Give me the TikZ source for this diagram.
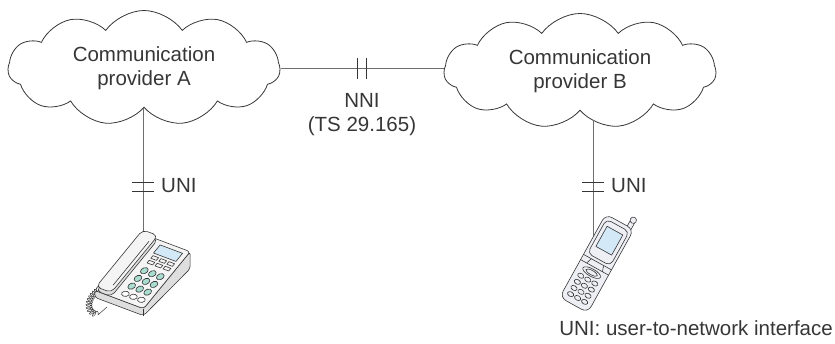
\documentclass[tikz,border=0pt]{standalone}
\usepackage{fontspec}
\setmainfont{Liberation Sans}
\usetikzlibrary{shapes.symbols,decorations.pathmorphing}

\definecolor{linegray}{HTML}{6E6E6E}
\definecolor{inkgray}{HTML}{363636}
\definecolor{keyteal}{HTML}{A9DDD0}
\definecolor{screenblue}{HTML}{D3E9F7}
\definecolor{bodytop}{HTML}{F4F4F4}
\definecolor{bodyside}{HTML}{DEDEDE}
\definecolor{mobgray}{HTML}{EEEEF5}

\begin{document}
\begin{tikzpicture}[x=1pt, y=-1pt,
    provider/.style={cloud, cloud puffs=11, cloud puff arc=110, cloud ignores aspect,
        draw=inkgray, line width=0.8pt, minimum width=272pt, minimum height=115pt,
        align=center, text=inkgray, font=\fontsize{20.5}{24}\selectfont},
    link/.style={draw=linegray, line width=1pt},
    tick/.style={draw=inkgray, line width=0.9pt},
    lbl/.style={text=inkgray, inner sep=0pt, font=\fontsize{20.5}{24}\selectfont},
    outline/.style={draw=inkgray, line width=0.6pt, line join=round}
]
\useasboundingbox (0,0) rectangle (835,343);

\node[provider] (provA) at (144,68) {Communication\\provider A};
\node[provider] (provB) at (580,71) {Communication\\provider B};

\coordinate (nni) at (362,68);
\coordinate (desk) at (143,238);
\coordinate (mob) at (593,240);
\coordinate (uniA) at (143,186.5);
\coordinate (uniB) at (593,186.5);

% links
\draw[link] (provA.east) -- (provA.east -| provB.west);
\draw[link] (desk |- provA.-90) -- (desk);
\draw[link] (mob |- provB.-77) -- (mob);

\draw[tick] (nni) ++(-4.5,-10.5) -- ++(0,21) (nni) ++(4.5,-10.5) -- ++(0,21);
\draw[tick] (uniA) ++(-11,-4.5) -- ++(22,0) (uniA) ++(-11,4.5) -- ++(22,0);
\draw[tick] (uniB) ++(-11,-4.5) -- ++(22,0) (uniB) ++(-11,4.5) -- ++(22,0);

\node[lbl, align=center] (nnilbl) at (362,115) {NNI\\(TS 29.165)};
\node[lbl, anchor=west] (uniAlbl) at (161,186) {UNI};
\node[lbl, anchor=west] (uniBlbl) at (611,186) {UNI};
\node[lbl, anchor=base east] (note) at (833,335) {UNI: user-to-network interface};

% desk telephone
\draw[outline, line width=0.5pt, decorate, decoration={coil, aspect=0.5, segment length=2.6pt, amplitude=3pt}]
    (99,290) .. controls (86,298) and (86,314) .. (99,314);
\draw[outline, line width=0.5pt] (99,314) -- (107,307);
\begin{scope}[shift={(144.3,270.7)}, x={(8pt,-3pt)}, y={(-6.3pt,-7.7pt)}]
  \coordinate (bBL) at (-3.2,-3.6);
  \coordinate (bBR) at (2.9,-3.6);
  \coordinate (bFR) at (2.9,3.8);
  \coordinate (bFL) at (-3.2,3.8);
  \draw[outline, fill=bodyside, rounded corners=3pt]
    (bFL) -- (bFR) -- (bBR) -- ([yshift=-17pt]bBR) -- ([yshift=-7pt]bFR)
    -- ([yshift=-7pt]bFL) -- cycle;
  \draw[outline, fill=bodytop, rounded corners=3pt] (bBL) -- (bBR) -- (bFR) -- (bFL) -- cycle;
  \draw[outline] (bFR) -- ([yshift=-7pt]bFR);
  % display and function keys
  \draw[outline, fill=screenblue] (-0.5,-3.15) -- (2.3,-3.15) -- (2.3,-2.1) -- (-0.5,-2.1) -- cycle;
  \foreach \kv in {-1.65,-1.05}
    \foreach \ku in {0,1,2}
      \draw[outline] (\ku-0.35,\kv-0.17) -- (\ku+0.35,\kv-0.17) -- (\ku+0.35,\kv+0.17) -- (\ku-0.35,\kv+0.17) -- cycle;
  \foreach \kv in {0,1,2}
    \foreach \ku in {0,1,2}
      \draw[outline, fill=keyteal] (\ku,\kv) circle [radius=0.38];
  \foreach \ku in {0,1,2}
    \draw[outline, fill=white] (\ku,3) ellipse [x radius=0.42, y radius=0.3];
  % handset
  \begin{scope}[yshift=-4pt]
    \draw[outline, fill=bodyside, rounded corners=5pt]
      (-3.35,-4) -- (-1.45,-4) -- (-1.45,3.4) -- (-3.35,3.4) -- cycle;
  \end{scope}
  \draw[outline, fill=bodytop, rounded corners=5pt]
    (-3.35,-4) -- (-1.45,-4) -- (-1.45,3.4) -- (-3.35,3.4) -- cycle;
  \draw[outline] (-1.85,-3.1) -- (-1.85,2.6);
\end{scope}

% mobile telephone
\begin{scope}[shift={(597,263)}, rotate=-29]
  \draw[outline, fill=mobgray] (8.5,-44) rectangle (13.5,-53);
  \draw[outline, fill=mobgray] (11,-55) circle [radius=3.2];
  \draw[outline, fill=mobgray, rounded corners=7pt] (-16,-47) rectangle (16,48);
  \draw[outline, rounded corners=5pt] (-13,-43) rectangle (13,-4);
  \draw[outline, fill=screenblue] (-9,-37) rectangle (9,-14);
  \draw[outline] (-16,-1) -- (16,-1) (-16,5) -- (16,5) (-7,-1) -- (-9,5) (7,-1) -- (9,5);
  \draw[outline] (0,11) ellipse [x radius=10, y radius=3.8];
  \draw[outline] (0,11) ellipse [x radius=6.5, y radius=2.2];
  \foreach \kx in {-8,0,8}
    \foreach \ky in {19,26,33,40}
      \draw[outline] (\kx,\ky) ellipse [x radius=3.3, y radius=2.3];
\end{scope}
\end{tikzpicture}
\end{document}
